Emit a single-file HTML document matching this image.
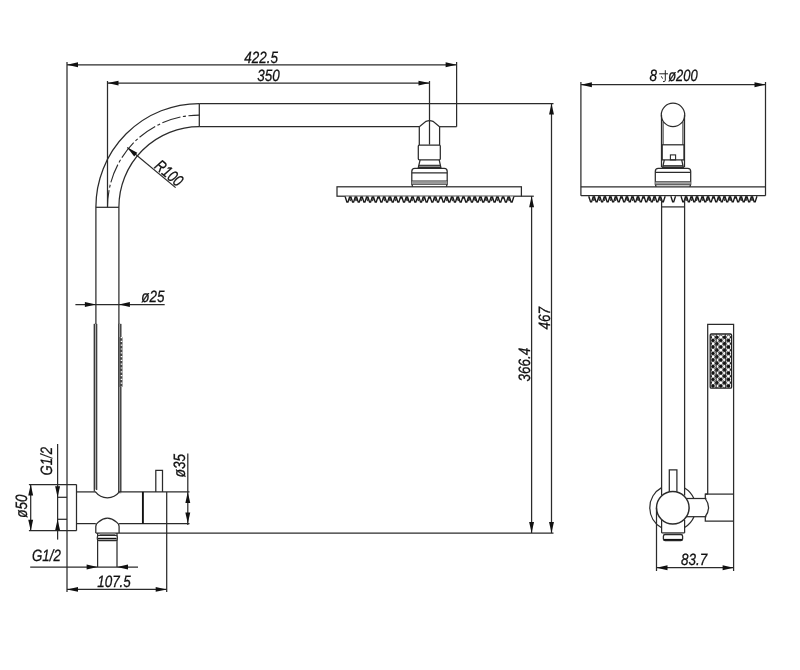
<!DOCTYPE html>
<html><head><meta charset="utf-8"><title>Shower column dimensions</title>
<style>
html,body{margin:0;padding:0;background:#fff;}
body{width:800px;height:670px;overflow:hidden;font-family:"Liberation Sans",sans-serif;}
svg{display:block;will-change:transform;}
svg text{text-rendering:geometricPrecision;font-family:"Liberation Sans",sans-serif;font-style:italic;fill:#111;stroke:#111;stroke-width:0.3px;}
</style></head><body>
<svg width="800" height="670" viewBox="0 0 800 670">
<rect width="800" height="670" fill="#fff"/>
<line x1="67" y1="62" x2="67" y2="592" stroke="#2b2b2b" stroke-width="1.25"/>
<line x1="67" y1="64.8" x2="456.6" y2="64.8" stroke="#2b2b2b" stroke-width="1.25"/>
<polygon points="67.00,64.80 78.00,62.35 78.00,67.25" fill="#111"/>
<polygon points="456.60,64.80 445.60,67.25 445.60,62.35" fill="#111"/>
<line x1="456.6" y1="62" x2="456.6" y2="126.7" stroke="#2b2b2b" stroke-width="1.25"/>
<line x1="107.5" y1="81" x2="107.5" y2="207.3" stroke="#2b2b2b" stroke-width="1.25"/>
<line x1="107.5" y1="83.1" x2="429.5" y2="83.1" stroke="#2b2b2b" stroke-width="1.25"/>
<polygon points="107.50,83.10 118.50,80.65 118.50,85.55" fill="#111"/>
<polygon points="429.50,83.10 418.50,85.55 418.50,80.65" fill="#111"/>
<line x1="429.5" y1="81" x2="429.5" y2="144.6" stroke="#2b2b2b" stroke-width="1.25"/>
<line x1="199.3" y1="103.5" x2="553.5" y2="103.5" stroke="#2b2b2b" stroke-width="1.25"/>
<line x1="199.3" y1="126.7" x2="419.3" y2="126.7" stroke="#2b2b2b" stroke-width="1.25"/>
<line x1="439.6" y1="126.7" x2="456.6" y2="126.7" stroke="#2b2b2b" stroke-width="1.25"/>
<line x1="199.3" y1="103.5" x2="199.3" y2="126.7" stroke="#2b2b2b" stroke-width="1.25"/>
<path d="M199.3,103.5 A103.4,103.5 0 0 0 95.9,207.0" fill="none" stroke="#2b2b2b" stroke-width="1.25" />
<path d="M199.3,126.7 A80.4,80.3 0 0 0 118.9,207.0" fill="none" stroke="#2b2b2b" stroke-width="1.25" />
<path d="M199.3,115.1 A91.8,91.9 0 0 0 107.5,207.0" fill="none" stroke="#2b2b2b" stroke-width="1.1" stroke-dasharray="19 2.5 3 2.5" stroke-dashoffset="8"/>
<line x1="95.9" y1="207.3" x2="118.9" y2="207.3" stroke="#2b2b2b" stroke-width="1.25"/>
<line x1="95.9" y1="207" x2="95.9" y2="324" stroke="#2b2b2b" stroke-width="1.25"/>
<line x1="118.9" y1="207" x2="118.9" y2="324" stroke="#2b2b2b" stroke-width="1.25"/>
<line x1="127.3" y1="147.5" x2="175.618292056945" y2="187.61461893997955" stroke="#2b2b2b" stroke-width="1.25"/>
<polygon points="127.30,147.50 137.33,152.64 134.20,156.41" fill="#111"/>
<text transform="translate(153.52,167.58) rotate(39.7) scale(0.78,1)" font-size="16.6" text-anchor="start">R100</text>
<line x1="75.4" y1="304.5" x2="164.7" y2="304.5" stroke="#2b2b2b" stroke-width="1.25"/>
<polygon points="95.90,304.50 84.90,306.95 84.90,302.05" fill="#111"/>
<polygon points="118.90,304.50 129.90,302.05 129.90,306.95" fill="#111"/>
<text transform="translate(141.2,302.3) rotate(0) scale(0.82,1)" font-size="16.4" text-anchor="start">ø25</text>
<line x1="94.3" y1="324" x2="94.3" y2="491.5" stroke="#2b2b2b" stroke-width="1.2"/>
<line x1="96.7" y1="324" x2="96.7" y2="490" stroke="#2b2b2b" stroke-width="1.1"/>
<line x1="118.7" y1="324" x2="118.7" y2="491.9" stroke="#2b2b2b" stroke-width="1.1"/>
<line x1="120.8" y1="324" x2="120.8" y2="491.9" stroke="#2b2b2b" stroke-width="1.2"/>
<rect x="93.8" y="323.5" width="3.3" height="166" fill="#333" opacity="0.4"/>
<rect x="118.3" y="323.5" width="3" height="170" fill="#333" opacity="0.35"/>
<rect x="119.5" y="337" width="3" height="50" fill="#444"/>
<path d="M121.5,337 V387" fill="none" stroke="#fff" stroke-width="1.6" stroke-dasharray="1.2 2.6"/>
<line x1="28.9" y1="484.5" x2="76.5" y2="484.5" stroke="#2b2b2b" stroke-width="1.25"/>
<line x1="28.9" y1="530.7" x2="76.5" y2="530.7" stroke="#2b2b2b" stroke-width="1.25"/>
<line x1="76.5" y1="484.5" x2="76.5" y2="530.7" stroke="#2b2b2b" stroke-width="1.25"/>
<line x1="30.7" y1="484.5" x2="30.7" y2="530.7" stroke="#2b2b2b" stroke-width="1.25"/>
<polygon points="30.70,484.50 33.15,495.50 28.25,495.50" fill="#111"/>
<polygon points="30.70,530.70 28.25,519.70 33.15,519.70" fill="#111"/>
<text transform="translate(27.3,517.8) rotate(-90) scale(0.82,1)" font-size="16.4" text-anchor="start">ø50</text>
<line x1="57.6" y1="444" x2="57.6" y2="539.6" stroke="#2b2b2b" stroke-width="1.25"/>
<polygon points="57.60,497.30 55.15,486.30 60.05,486.30" fill="#111"/>
<polygon points="57.60,519.30 60.05,530.30 55.15,530.30" fill="#111"/>
<line x1="57.6" y1="497.3" x2="67" y2="497.3" stroke="#2b2b2b" stroke-width="1.25"/>
<line x1="57.6" y1="519.3" x2="67" y2="519.3" stroke="#2b2b2b" stroke-width="1.25"/>
<text transform="translate(51.8,475.4) rotate(-90) scale(0.8,1)" font-size="16.4" text-anchor="start">G1/2</text>
<line x1="76.5" y1="491.9" x2="95.9" y2="491.9" stroke="#2b2b2b" stroke-width="1.25"/>
<line x1="118.9" y1="491.9" x2="189.5" y2="491.9" stroke="#2b2b2b" stroke-width="1.25"/>
<line x1="76.5" y1="523.6" x2="95.8" y2="523.6" stroke="#2b2b2b" stroke-width="1.25"/>
<line x1="119.1" y1="523.6" x2="189.5" y2="523.6" stroke="#2b2b2b" stroke-width="1.25"/>
<path d="M95.5,491.9 A15,15 0 0 0 119.3,491.9" fill="none" stroke="#2b2b2b" stroke-width="1.25" />
<path d="M95.8,533.1 V526.5 Q95.8,523.8 98.5,522 Q107.4,514.4 116.4,522 Q119.1,523.8 119.1,526.5 V533.1" fill="none" stroke="#2b2b2b" stroke-width="1.25" />
<line x1="95.8" y1="533.1" x2="553.5" y2="533.1" stroke="#2b2b2b" stroke-width="1.25"/>
<line x1="142.9" y1="491.9" x2="142.9" y2="523.6" stroke="#111" stroke-width="1.9"/>
<line x1="166.7" y1="491.9" x2="166.7" y2="592" stroke="#2b2b2b" stroke-width="1.25"/>
<path d="M155.8,491.9 V470.4 H162.5 V491.9" fill="none" stroke="#2b2b2b" stroke-width="1.25" />
<line x1="187.8" y1="453.4" x2="187.8" y2="525" stroke="#2b2b2b" stroke-width="1.25"/>
<polygon points="187.80,491.90 190.25,502.90 185.35,502.90" fill="#111"/>
<polygon points="187.80,523.60 185.35,512.60 190.25,512.60" fill="#111"/>
<text transform="translate(184.6,477.3) rotate(-90) scale(0.82,1)" font-size="16.4" text-anchor="start">ø35</text>
<line x1="97.6" y1="533.1" x2="97.6" y2="567" stroke="#2b2b2b" stroke-width="1.25"/>
<line x1="117" y1="533.1" x2="117" y2="567" stroke="#2b2b2b" stroke-width="1.25"/>
<rect x="99.8" y="533.1" width="15.4" height="2.2" fill="#888"/>
<rect x="97.3" y="535.3" width="20" height="5.3" rx="1.6" fill="#fff" stroke="#2b2b2b" stroke-width="1.2"/>
<line x1="98" y1="538.6" x2="116.6" y2="538.6" stroke="#111" stroke-width="1.6"/>
<line x1="30.2" y1="567" x2="138" y2="567" stroke="#2b2b2b" stroke-width="1.25"/>
<polygon points="97.60,567.00 86.60,569.45 86.60,564.55" fill="#111"/>
<polygon points="117.00,567.00 128.00,564.55 128.00,569.45" fill="#111"/>
<text transform="translate(32,560.8) rotate(0) scale(0.81,1)" font-size="16.4" text-anchor="start">G1/2</text>
<line x1="67" y1="589.4" x2="166.7" y2="589.4" stroke="#2b2b2b" stroke-width="1.25"/>
<polygon points="67.00,589.40 78.00,586.95 78.00,591.85" fill="#111"/>
<polygon points="166.70,589.40 155.70,591.85 155.70,586.95" fill="#111"/>
<text transform="translate(97.2,587) rotate(0) scale(0.82,1)" font-size="16.4" text-anchor="start">107.5</text>
<text transform="translate(244.3,63.1) rotate(0) scale(0.82,1)" font-size="16.4" text-anchor="start">422.5</text>
<text transform="translate(257.2,81.3) rotate(0) scale(0.82,1)" font-size="16.4" text-anchor="start">350</text>
<path d="M419.3,145 V126.7 L426,121.3 Q429.5,120.1 433,121.3 L439.6,126.7 V145" fill="none" stroke="#2b2b2b" stroke-width="1.25" />
<rect x="418.3" y="145.1" width="22" height="14.7" rx="1" fill="none" stroke="#2b2b2b" stroke-width="1.25"/>
<path d="M418.7,165.3 H440.5 L440.9,167.7 H418.3 Z" fill="#8a8a8a"/>
<path d="M420.1,159.8 L418.3,167.7 H440.9 L439.2,159.8" fill="none" stroke="#2b2b2b" stroke-width="1.25" />
<line x1="418.8" y1="165.3" x2="440.5" y2="165.3" stroke="#2b2b2b" stroke-width="1.1"/>
<path d="M412.7,186.8 L411.8,184.1 V171.4 Q411.8,168.4 414.8,168.4 H444.2 Q447.2,168.4 447.2,171.4 V184.1 L446.3,186.8" fill="none" stroke="#2b2b2b" stroke-width="1.25" />
<line x1="411.8" y1="172.8" x2="447.2" y2="172.8" stroke="#2b2b2b" stroke-width="1.25"/>
<line x1="411.8" y1="181.2" x2="447.2" y2="181.2" stroke="#2b2b2b" stroke-width="1.25"/>
<line x1="411.8" y1="184.1" x2="447.2" y2="184.1" stroke="#2b2b2b" stroke-width="1.25"/>
<rect x="411.8" y="181.2" width="35.4" height="2.9" fill="#999"/>
<rect x="337" y="186.8" width="184.4" height="9.4" fill="none" stroke="#2b2b2b" stroke-width="1.25"/>
<rect x="345.1" y="196.5" width="168.79999999999995" height="2.6" fill="#6a6a6a"/>
<path d="M348.50,196.5 L350.30,201.1 L352.10,196.5 M354.22,196.5 L356.02,201.1 L357.82,196.5 M359.35,196.5 L361.15,201.1 L362.95,196.5 M365.78,196.5 L367.58,201.1 L369.38,196.5 M370.83,196.5 L372.63,201.1 L374.43,196.5 M382.76,196.5 L384.56,201.1 L386.36,196.5 M388.22,196.5 L390.02,201.1 L391.82,196.5 M393.87,196.5 L395.67,201.1 L397.47,196.5 M405.30,196.5 L407.10,201.1 L408.90,196.5 M410.28,196.5 L412.08,201.1 L413.88,196.5 M416.47,196.5 L418.27,201.1 L420.07,196.5 M421.57,196.5 L423.37,201.1 L425.17,196.5 M433.58,196.5 L435.38,201.1 L437.18,196.5 M445.10,196.5 L446.90,201.1 L448.70,196.5 M450.64,196.5 L452.44,201.1 L454.24,196.5 M456.44,196.5 L458.24,201.1 L460.04,196.5 M466.96,196.5 L468.76,201.1 L470.56,196.5 M473.45,196.5 L475.25,201.1 L477.05,196.5 M478.77,196.5 L480.57,201.1 L482.37,196.5 M484.31,196.5 L486.11,201.1 L487.91,196.5 M489.81,196.5 L491.61,201.1 L493.41,196.5 M495.70,196.5 L497.50,201.1 L499.30,196.5 M507.37,196.5 L509.17,201.1 L510.97,196.5 " fill="#777" stroke="#333" stroke-width="0.9" />
<path d="M345.13,196.5 L346.88,202.0 H347.98 L349.73,196.5 M350.79,196.5 L352.54,202.0 H353.64 L355.39,196.5 M356.45,196.5 L358.20,202.0 H359.30 L361.05,196.5 M362.11,196.5 L363.86,202.0 H364.96 L366.71,196.5 M367.77,196.5 L369.52,202.0 H370.62 L372.37,196.5 M373.43,196.5 L375.18,202.0 H376.28 L378.03,196.5 M379.09,196.5 L380.84,202.0 H381.94 L383.69,196.5 M384.75,196.5 L386.50,202.0 H387.60 L389.35,196.5 M390.41,196.5 L392.16,202.0 H393.26 L395.01,196.5 M396.07,196.5 L397.82,202.0 H398.92 L400.67,196.5 M401.73,196.5 L403.48,202.0 H404.58 L406.33,196.5 M407.39,196.5 L409.14,202.0 H410.24 L411.99,196.5 M413.05,196.5 L414.80,202.0 H415.90 L417.65,196.5 M418.71,196.5 L420.46,202.0 H421.56 L423.31,196.5 M424.37,196.5 L426.12,202.0 H427.22 L428.97,196.5 M430.03,196.5 L431.78,202.0 H432.88 L434.63,196.5 M435.69,196.5 L437.44,202.0 H438.54 L440.29,196.5 M441.35,196.5 L443.10,202.0 H444.20 L445.95,196.5 M447.01,196.5 L448.76,202.0 H449.86 L451.61,196.5 M452.67,196.5 L454.42,202.0 H455.52 L457.27,196.5 M458.33,196.5 L460.08,202.0 H461.18 L462.93,196.5 M463.99,196.5 L465.74,202.0 H466.84 L468.59,196.5 M469.65,196.5 L471.40,202.0 H472.50 L474.25,196.5 M475.31,196.5 L477.06,202.0 H478.16 L479.91,196.5 M480.97,196.5 L482.72,202.0 H483.82 L485.57,196.5 M486.63,196.5 L488.38,202.0 H489.48 L491.23,196.5 M492.29,196.5 L494.04,202.0 H495.14 L496.89,196.5 M497.95,196.5 L499.70,202.0 H500.80 L502.55,196.5 M503.61,196.5 L505.36,202.0 H506.46 L508.21,196.5 M509.27,196.5 L511.02,202.0 H512.12 L513.87,196.5 " fill="#fff" stroke="#1a1a1a" stroke-width="1.35" />
<line x1="521.4" y1="196.2" x2="533.8" y2="196.2" stroke="#2b2b2b" stroke-width="1.25"/>
<line x1="531.6" y1="196.2" x2="531.6" y2="533.1" stroke="#2b2b2b" stroke-width="1.25"/>
<polygon points="531.60,196.20 534.05,207.20 529.15,207.20" fill="#111"/>
<polygon points="531.60,533.10 529.15,522.10 534.05,522.10" fill="#111"/>
<line x1="551.5" y1="103.5" x2="551.5" y2="533.1" stroke="#2b2b2b" stroke-width="1.25"/>
<polygon points="551.50,103.50 553.95,114.50 549.05,114.50" fill="#111"/>
<polygon points="551.50,533.10 549.05,522.10 553.95,522.10" fill="#111"/>
<text transform="translate(530.0,381.4) rotate(-90) scale(0.82,1)" font-size="16.4" text-anchor="start">366.4</text>
<text transform="translate(549.8,329.4) rotate(-90) scale(0.82,1)" font-size="16.4" text-anchor="start">467</text>
<line x1="580.9" y1="84.7" x2="765.5" y2="84.7" stroke="#2b2b2b" stroke-width="1.25"/>
<polygon points="580.90,84.70 591.90,82.25 591.90,87.15" fill="#111"/>
<polygon points="765.50,84.70 754.50,87.15 754.50,82.25" fill="#111"/>
<line x1="580.9" y1="82" x2="580.9" y2="195.7" stroke="#2b2b2b" stroke-width="1.25"/>
<line x1="765.5" y1="82" x2="765.5" y2="195.7" stroke="#2b2b2b" stroke-width="1.25"/>
<line x1="580.9" y1="186.8" x2="765.5" y2="186.8" stroke="#2b2b2b" stroke-width="1.25"/>
<line x1="580.9" y1="195.7" x2="765.5" y2="195.7" stroke="#2b2b2b" stroke-width="1.25"/>
<rect x="588.8" y="196.3" width="76.30000000000007" height="2.6" fill="#6a6a6a"/>
<path d="M592.07,196.3 L593.87,200.9 L595.67,196.3 M597.65,196.3 L599.45,200.9 L601.25,196.3 M602.63,196.3 L604.43,200.9 L606.23,196.3 M608.92,196.3 L610.72,200.9 L612.52,196.3 M613.84,196.3 L615.64,200.9 L617.44,196.3 M625.49,196.3 L627.29,200.9 L629.09,196.3 M630.81,196.3 L632.61,200.9 L634.41,196.3 M636.33,196.3 L638.13,200.9 L639.93,196.3 M647.48,196.3 L649.28,200.9 L651.08,196.3 M652.32,196.3 L654.12,200.9 L655.92,196.3 M658.37,196.3 L660.17,200.9 L661.97,196.3 " fill="#777" stroke="#333" stroke-width="0.9" />
<path d="M588.76,196.3 L590.51,201.8 H591.61 L593.36,196.3 M594.28,196.3 L596.03,201.8 H597.13 L598.88,196.3 M599.80,196.3 L601.55,201.8 H602.65 L604.40,196.3 M605.32,196.3 L607.07,201.8 H608.17 L609.92,196.3 M610.85,196.3 L612.60,201.8 H613.70 L615.45,196.3 M616.37,196.3 L618.12,201.8 H619.22 L620.97,196.3 M621.89,196.3 L623.64,201.8 H624.74 L626.49,196.3 M627.41,196.3 L629.16,201.8 H630.26 L632.01,196.3 M632.93,196.3 L634.68,201.8 H635.78 L637.53,196.3 M638.45,196.3 L640.20,201.8 H641.30 L643.05,196.3 M643.98,196.3 L645.73,201.8 H646.82 L648.57,196.3 M649.50,196.3 L651.25,201.8 H652.35 L654.10,196.3 M655.02,196.3 L656.77,201.8 H657.87 L659.62,196.3 M660.54,196.3 L662.29,201.8 H663.39 L665.14,196.3 " fill="#fff" stroke="#1a1a1a" stroke-width="1.35" />
<rect x="681.1" y="196.3" width="75.79999999999995" height="2.6" fill="#6a6a6a"/>
<path d="M684.33,196.3 L686.13,200.9 L687.93,196.3 M689.88,196.3 L691.68,200.9 L693.48,196.3 M694.82,196.3 L696.62,200.9 L698.42,196.3 M701.08,196.3 L702.88,200.9 L704.68,196.3 M705.96,196.3 L707.76,200.9 L709.56,196.3 M717.54,196.3 L719.34,200.9 L721.14,196.3 M722.82,196.3 L724.62,200.9 L726.42,196.3 M728.31,196.3 L730.11,200.9 L731.91,196.3 M739.38,196.3 L741.18,200.9 L742.98,196.3 M744.19,196.3 L745.99,200.9 L747.79,196.3 M750.21,196.3 L752.01,200.9 L753.81,196.3 " fill="#777" stroke="#333" stroke-width="0.9" />
<path d="M681.04,196.3 L682.79,201.8 H683.89 L685.64,196.3 M686.53,196.3 L688.28,201.8 H689.38 L691.13,196.3 M692.01,196.3 L693.76,201.8 H694.86 L696.61,196.3 M697.50,196.3 L699.25,201.8 H700.35 L702.10,196.3 M702.99,196.3 L704.74,201.8 H705.84 L707.59,196.3 M708.47,196.3 L710.22,201.8 H711.32 L713.07,196.3 M713.96,196.3 L715.71,201.8 H716.81 L718.56,196.3 M719.44,196.3 L721.19,201.8 H722.29 L724.04,196.3 M724.93,196.3 L726.68,201.8 H727.78 L729.53,196.3 M730.41,196.3 L732.16,201.8 H733.26 L735.01,196.3 M735.90,196.3 L737.65,201.8 H738.75 L740.50,196.3 M741.39,196.3 L743.14,201.8 H744.24 L745.99,196.3 M746.87,196.3 L748.62,201.8 H749.72 L751.47,196.3 M752.36,196.3 L754.11,201.8 H755.21 L756.96,196.3 " fill="#fff" stroke="#1a1a1a" stroke-width="1.35" />
<path d="M670.90,196.3 L672.65,201.8 H673.75 L675.50,196.3 " fill="#fff" stroke="#1a1a1a" stroke-width="1.35" />
<circle cx="673" cy="114.9" r="11.7" fill="none" stroke="#2b2b2b" stroke-width="1.25"/>
<line x1="661.5" y1="115" x2="661.5" y2="167.3" stroke="#2b2b2b" stroke-width="1.25"/>
<line x1="684.5" y1="115" x2="684.5" y2="167.3" stroke="#2b2b2b" stroke-width="1.25"/>
<line x1="663.1" y1="122" x2="663.1" y2="144.8" stroke="#2b2b2b" stroke-width="1"/>
<line x1="682.9" y1="122" x2="682.9" y2="144.8" stroke="#2b2b2b" stroke-width="1"/>
<rect x="662.2" y="144.8" width="21.8" height="15.1" fill="none" stroke="#2b2b2b" stroke-width="1.25"/>
<rect x="670.4" y="154.9" width="5.2" height="5" fill="none" stroke="#2b2b2b" stroke-width="1.1"/>
<path d="M662.9,165.6 H683.1 L683.4,167.6 H662.6 Z" fill="#8a8a8a"/>
<path d="M664.3,159.9 L662.6,167.6 H683.4 L681.7,159.9" fill="none" stroke="#2b2b2b" stroke-width="1.25" />
<line x1="663" y1="165.8" x2="683" y2="165.8" stroke="#2b2b2b" stroke-width="1.2"/>
<path d="M656.2,186.8 L655.3,184.4 V171.4 Q655.3,168.4 658.3,168.4 H687.7 Q690.7,168.4 690.7,171.4 V184.4 L689.8,186.8" fill="none" stroke="#2b2b2b" stroke-width="1.25" />
<line x1="655.3" y1="172.3" x2="690.7" y2="172.3" stroke="#2b2b2b" stroke-width="1.25"/>
<line x1="655.3" y1="181.8" x2="690.7" y2="181.8" stroke="#2b2b2b" stroke-width="1.25"/>
<line x1="655.3" y1="184.5" x2="690.7" y2="184.5" stroke="#2b2b2b" stroke-width="1.25"/>
<rect x="655.3" y="181.8" width="35.4" height="2.7" fill="#999"/>
<line x1="661.6" y1="199.5" x2="661.6" y2="495.5" stroke="#2b2b2b" stroke-width="1.25"/>
<line x1="684.6" y1="199.5" x2="684.6" y2="495.5" stroke="#2b2b2b" stroke-width="1.25"/>
<line x1="661.6" y1="206.9" x2="684.6" y2="206.9" stroke="#2b2b2b" stroke-width="1.25"/>
<line x1="661.6" y1="520" x2="661.6" y2="532.9" stroke="#2b2b2b" stroke-width="1.25"/>
<line x1="684.6" y1="520" x2="684.6" y2="532.9" stroke="#2b2b2b" stroke-width="1.25"/>
<line x1="661.6" y1="532.9" x2="684.6" y2="532.9" stroke="#2b2b2b" stroke-width="1.25"/>
<circle cx="672.8" cy="507.7" r="16.3" fill="none" stroke="#2b2b2b" stroke-width="1.5"/>
<path d="M661.60,487.61 A23.0,23.0 0 0 0 661.60,527.79" fill="none" stroke="#2b2b2b" stroke-width="1.25" />
<path d="M684.60,487.96 A23.0,23.0 0 0 1 693.88,498.50" fill="none" stroke="#2b2b2b" stroke-width="1.25" />
<path d="M693.97,516.70 A23.0,23.0 0 0 1 684.60,527.44" fill="none" stroke="#2b2b2b" stroke-width="1.25" />
<path d="M669.3,491.8 V469.9 H676.9 V491.8" fill="none" stroke="#2b2b2b" stroke-width="1.25" />
<line x1="686.2" y1="498.5" x2="706.4" y2="498.5" stroke="#2b2b2b" stroke-width="1.25"/>
<line x1="686.2" y1="516.7" x2="706.4" y2="516.7" stroke="#2b2b2b" stroke-width="1.25"/>
<path d="M707.8,494.1 H705.3 V498.5 Q711.8,507.6 705.3,516.7 V521.2 H733.6" fill="none" stroke="#2b2b2b" stroke-width="1.25" />
<line x1="705.3" y1="494.1" x2="733.6" y2="494.1" stroke="#2b2b2b" stroke-width="1.25"/>
<path d="M707.7,494.1 V324.3 H733.6 V571" fill="none" stroke="#2b2b2b" stroke-width="1.25" />
<rect x="710.2" y="334" width="21.4" height="54.1" rx="1.2" fill="#fff" stroke="#222" stroke-width="1.3"/>
<circle cx="712.90" cy="337.20" r="2.0" fill="none" stroke="#333" stroke-width="0.7"/>
<circle cx="712.90" cy="340.45" r="1.75" fill="#111"/>
<circle cx="712.90" cy="343.70" r="2.0" fill="none" stroke="#333" stroke-width="0.7"/>
<circle cx="712.90" cy="346.95" r="1.75" fill="#111"/>
<circle cx="712.90" cy="350.20" r="2.0" fill="none" stroke="#333" stroke-width="0.7"/>
<circle cx="712.90" cy="353.45" r="1.75" fill="#111"/>
<circle cx="712.90" cy="356.70" r="2.0" fill="none" stroke="#333" stroke-width="0.7"/>
<circle cx="712.90" cy="359.95" r="1.75" fill="#111"/>
<circle cx="712.90" cy="363.20" r="2.0" fill="none" stroke="#333" stroke-width="0.7"/>
<circle cx="712.90" cy="366.45" r="1.75" fill="#111"/>
<circle cx="712.90" cy="369.70" r="2.0" fill="none" stroke="#333" stroke-width="0.7"/>
<circle cx="712.90" cy="372.95" r="1.75" fill="#111"/>
<circle cx="712.90" cy="376.20" r="2.0" fill="none" stroke="#333" stroke-width="0.7"/>
<circle cx="712.90" cy="379.45" r="1.75" fill="#111"/>
<circle cx="712.90" cy="382.70" r="2.0" fill="none" stroke="#333" stroke-width="0.7"/>
<circle cx="712.90" cy="385.95" r="1.75" fill="#111"/>
<circle cx="716.80" cy="337.20" r="1.75" fill="#111"/>
<circle cx="716.80" cy="340.45" r="2.0" fill="none" stroke="#333" stroke-width="0.7"/>
<circle cx="716.80" cy="343.70" r="1.75" fill="#111"/>
<circle cx="716.80" cy="346.95" r="2.0" fill="none" stroke="#333" stroke-width="0.7"/>
<circle cx="716.80" cy="350.20" r="1.75" fill="#111"/>
<circle cx="716.80" cy="353.45" r="2.0" fill="none" stroke="#333" stroke-width="0.7"/>
<circle cx="716.80" cy="356.70" r="1.75" fill="#111"/>
<circle cx="716.80" cy="359.95" r="2.0" fill="none" stroke="#333" stroke-width="0.7"/>
<circle cx="716.80" cy="363.20" r="1.75" fill="#111"/>
<circle cx="716.80" cy="366.45" r="2.0" fill="none" stroke="#333" stroke-width="0.7"/>
<circle cx="716.80" cy="369.70" r="1.75" fill="#111"/>
<circle cx="716.80" cy="372.95" r="2.0" fill="none" stroke="#333" stroke-width="0.7"/>
<circle cx="716.80" cy="376.20" r="1.75" fill="#111"/>
<circle cx="716.80" cy="379.45" r="2.0" fill="none" stroke="#333" stroke-width="0.7"/>
<circle cx="716.80" cy="382.70" r="1.75" fill="#111"/>
<circle cx="716.80" cy="385.95" r="2.0" fill="none" stroke="#333" stroke-width="0.7"/>
<circle cx="720.70" cy="337.20" r="2.0" fill="none" stroke="#333" stroke-width="0.7"/>
<circle cx="720.70" cy="340.45" r="1.75" fill="#111"/>
<circle cx="720.70" cy="343.70" r="2.0" fill="none" stroke="#333" stroke-width="0.7"/>
<circle cx="720.70" cy="346.95" r="1.75" fill="#111"/>
<circle cx="720.70" cy="350.20" r="2.0" fill="none" stroke="#333" stroke-width="0.7"/>
<circle cx="720.70" cy="353.45" r="1.75" fill="#111"/>
<circle cx="720.70" cy="356.70" r="2.0" fill="none" stroke="#333" stroke-width="0.7"/>
<circle cx="720.70" cy="359.95" r="1.75" fill="#111"/>
<circle cx="720.70" cy="363.20" r="2.0" fill="none" stroke="#333" stroke-width="0.7"/>
<circle cx="720.70" cy="366.45" r="1.75" fill="#111"/>
<circle cx="720.70" cy="369.70" r="2.0" fill="none" stroke="#333" stroke-width="0.7"/>
<circle cx="720.70" cy="372.95" r="1.75" fill="#111"/>
<circle cx="720.70" cy="376.20" r="2.0" fill="none" stroke="#333" stroke-width="0.7"/>
<circle cx="720.70" cy="379.45" r="1.75" fill="#111"/>
<circle cx="720.70" cy="382.70" r="2.0" fill="none" stroke="#333" stroke-width="0.7"/>
<circle cx="720.70" cy="385.95" r="1.75" fill="#111"/>
<circle cx="724.60" cy="337.20" r="1.75" fill="#111"/>
<circle cx="724.60" cy="340.45" r="2.0" fill="none" stroke="#333" stroke-width="0.7"/>
<circle cx="724.60" cy="343.70" r="1.75" fill="#111"/>
<circle cx="724.60" cy="346.95" r="2.0" fill="none" stroke="#333" stroke-width="0.7"/>
<circle cx="724.60" cy="350.20" r="1.75" fill="#111"/>
<circle cx="724.60" cy="353.45" r="2.0" fill="none" stroke="#333" stroke-width="0.7"/>
<circle cx="724.60" cy="356.70" r="1.75" fill="#111"/>
<circle cx="724.60" cy="359.95" r="2.0" fill="none" stroke="#333" stroke-width="0.7"/>
<circle cx="724.60" cy="363.20" r="1.75" fill="#111"/>
<circle cx="724.60" cy="366.45" r="2.0" fill="none" stroke="#333" stroke-width="0.7"/>
<circle cx="724.60" cy="369.70" r="1.75" fill="#111"/>
<circle cx="724.60" cy="372.95" r="2.0" fill="none" stroke="#333" stroke-width="0.7"/>
<circle cx="724.60" cy="376.20" r="1.75" fill="#111"/>
<circle cx="724.60" cy="379.45" r="2.0" fill="none" stroke="#333" stroke-width="0.7"/>
<circle cx="724.60" cy="382.70" r="1.75" fill="#111"/>
<circle cx="724.60" cy="385.95" r="2.0" fill="none" stroke="#333" stroke-width="0.7"/>
<circle cx="728.50" cy="337.20" r="2.0" fill="none" stroke="#333" stroke-width="0.7"/>
<circle cx="728.50" cy="340.45" r="1.75" fill="#111"/>
<circle cx="728.50" cy="343.70" r="2.0" fill="none" stroke="#333" stroke-width="0.7"/>
<circle cx="728.50" cy="346.95" r="1.75" fill="#111"/>
<circle cx="728.50" cy="350.20" r="2.0" fill="none" stroke="#333" stroke-width="0.7"/>
<circle cx="728.50" cy="353.45" r="1.75" fill="#111"/>
<circle cx="728.50" cy="356.70" r="2.0" fill="none" stroke="#333" stroke-width="0.7"/>
<circle cx="728.50" cy="359.95" r="1.75" fill="#111"/>
<circle cx="728.50" cy="363.20" r="2.0" fill="none" stroke="#333" stroke-width="0.7"/>
<circle cx="728.50" cy="366.45" r="1.75" fill="#111"/>
<circle cx="728.50" cy="369.70" r="2.0" fill="none" stroke="#333" stroke-width="0.7"/>
<circle cx="728.50" cy="372.95" r="1.75" fill="#111"/>
<circle cx="728.50" cy="376.20" r="2.0" fill="none" stroke="#333" stroke-width="0.7"/>
<circle cx="728.50" cy="379.45" r="1.75" fill="#111"/>
<circle cx="728.50" cy="382.70" r="2.0" fill="none" stroke="#333" stroke-width="0.7"/>
<circle cx="728.50" cy="385.95" r="1.75" fill="#111"/>
<circle cx="711.2" cy="337.20" r="0.9" fill="#222"/>
<circle cx="730.6" cy="337.20" r="0.9" fill="#222"/>
<circle cx="711.2" cy="343.70" r="0.9" fill="#222"/>
<circle cx="730.6" cy="343.70" r="0.9" fill="#222"/>
<circle cx="711.2" cy="350.20" r="0.9" fill="#222"/>
<circle cx="730.6" cy="350.20" r="0.9" fill="#222"/>
<circle cx="711.2" cy="356.70" r="0.9" fill="#222"/>
<circle cx="730.6" cy="356.70" r="0.9" fill="#222"/>
<circle cx="711.2" cy="363.20" r="0.9" fill="#222"/>
<circle cx="730.6" cy="363.20" r="0.9" fill="#222"/>
<circle cx="711.2" cy="369.70" r="0.9" fill="#222"/>
<circle cx="730.6" cy="369.70" r="0.9" fill="#222"/>
<circle cx="711.2" cy="376.20" r="0.9" fill="#222"/>
<circle cx="730.6" cy="376.20" r="0.9" fill="#222"/>
<circle cx="711.2" cy="382.70" r="0.9" fill="#222"/>
<circle cx="730.6" cy="382.70" r="0.9" fill="#222"/>
<line x1="716.3" y1="334" x2="716.3" y2="388" stroke="#2b2b2b" stroke-width="0.9"/>
<line x1="725.4" y1="334" x2="725.4" y2="388" stroke="#2b2b2b" stroke-width="0.9"/>
<rect x="666.1" y="532.9" width="15.2" height="1.8" fill="#888"/>
<rect x="663.4" y="534.5" width="19.2" height="6.2" rx="1.8" fill="#fff" stroke="#2b2b2b" stroke-width="1.3"/>
<line x1="664" y1="539.6" x2="682" y2="539.6" stroke="#111" stroke-width="1.4"/>
<line x1="656.5" y1="508" x2="656.5" y2="571" stroke="#2b2b2b" stroke-width="1.25"/>
<line x1="656.5" y1="567.7" x2="733.6" y2="567.7" stroke="#2b2b2b" stroke-width="1.25"/>
<polygon points="656.50,567.70 667.50,565.25 667.50,570.15" fill="#111"/>
<polygon points="733.60,567.70 722.60,570.15 722.60,565.25" fill="#111"/>
<text transform="translate(681,565.1) rotate(0) scale(0.82,1)" font-size="16.4" text-anchor="start">83.7</text>
<text transform="translate(649.5,81.4) rotate(0) scale(0.82,1)" font-size="16.4" text-anchor="start">8</text>
<path d="M659.2,73.8 H668 M665.3,70.2 V80.2 Q665.3,82 663,81.6 M661.3,76.3 L662.6,78.6" fill="none" stroke="#222" stroke-width="1.0" />
<text transform="translate(668.2,81.4) rotate(0) scale(0.79,1)" font-size="16.4" text-anchor="start">ø200</text>
</svg>
</body></html>
